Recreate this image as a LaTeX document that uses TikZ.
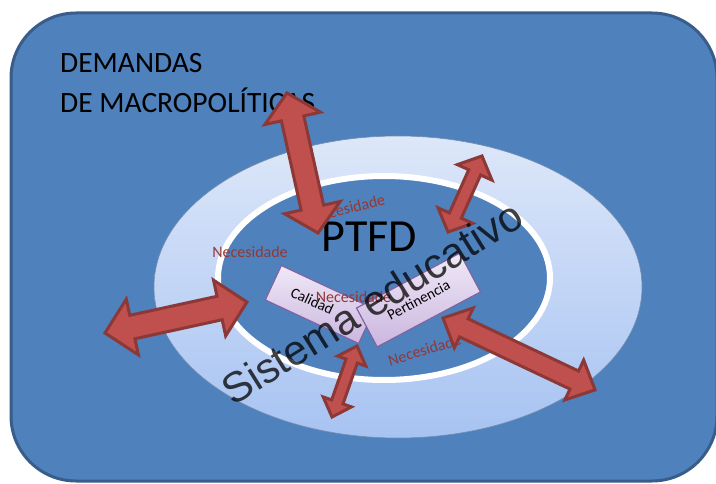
\documentclass[tikz,border=0pt]{standalone}
\usepackage{fontspec}
\setmainfont{Carlito}
\newfontfamily\sistfont{Liberation Sans}
\definecolor{bgblue}{HTML}{4F81BD}
\definecolor{bgline}{HTML}{385D8A}
\definecolor{ringtop}{HTML}{DDE7F9}
\definecolor{ringbot}{HTML}{A7C3F2}
\definecolor{arrowfill}{HTML}{C0504D}
\definecolor{arrowline}{HTML}{8C3836}
\definecolor{necred}{HTML}{953735}
\definecolor{boxtop}{HTML}{F0E9F7}
\definecolor{boxbot}{HTML}{CBB6DF}
\definecolor{boxline}{HTML}{8064A2}
\tikzset{
	arrowred/.style={fill=arrowfill, draw=arrowline, line width=3pt},
	necesidad/.style={text=necred, inner sep=0pt, font=\fontsize{16}{16}\selectfont},
	boxnode/.style={draw=boxline, line width=1.2pt, top color=boxtop, bottom color=boxbot, inner sep=0pt, font=\fontsize{15}{15}\selectfont},
	titletext/.style={anchor=base west, inner sep=0pt, font=\fontsize{29.5}{30}\selectfont}
}
\def\dblarrow(#1)(#2:#3:#4:#5:#6){\draw[arrowred, shift={(#1)}, rotate=#2] (0,0) -- (#6,#5) -- (#6,#4) -- ({#3-#6},#4) -- ({#3-#6},#5) -- (#3,0) -- ({#3-#6},-#5) -- ({#3-#6},-#4) -- (#6,-#4) -- (#6,-#5) -- cycle;}

\begin{document}
\begin{tikzpicture}[x=1pt, y=1pt]
		%%%%% START %%%%%
		\useasboundingbox (0,0) rectangle (716,483);
		
		\draw[rounded corners=65pt, fill=bgblue, draw=bgline, line width=3pt] (11,2) rectangle (717,470);
		
		\draw[top color=ringtop, bottom color=ringbot, draw=bgline!70, line width=0.6pt] (398,196) ellipse (244pt and 151pt);
		\draw[fill=bgblue, draw=white, line width=6pt] (384,205) ellipse (166pt and 102pt);
		
		\node[titletext] (demandas) at (60,410) {DEMANDAS};
		\node[titletext] (macro) at (60,370) {DE MACROPOLÍTICAS};
		
		\node[inner sep=0pt, font=\fontsize{46}{46}\selectfont] (ptfd) at (369.5,246) {PTFD};
		
		\node[necesidad] (necleft) at (250,230.5) {Necesidade};
		\node[necesidad, rotate=14] (nectop) at (348,275) {Necesidade};
		
		\node[boxnode, minimum width=103pt, minimum height=38pt, rotate=-25] (calidad) at (320,178.5) {\hspace*{-17pt}Calidad};
		\node[boxnode, minimum width=117pt, minimum height=44pt, rotate=28] (pertinencia) at (418.5,183) {Pertinencia};
		
		\node[necesidad] (necmid) at (353.5,185.5) {Necesidade};
		\node[necesidad, rotate=17] (necbot) at (424.5,133) {Necesidade};
		
		\dblarrow(318,250)(102.5:143.4:11.5:28.5:26)
		\dblarrow(448,251)(65.9:83.3:6.5:19:18)
		\dblarrow(105,150)(12.3:145.3:12:28.5:28)
		\dblarrow(332,66)(70.6:75.3:6:15:16)
		\dblarrow(443,165)(-25.3:168.2:10:22:23)
		
		\node[anchor=base west, inner sep=0pt, rotate=32, text=black, text opacity=0.75, font=\sistfont\fontsize{42.3}{42}\selectfont] (sistema) at (233,76) {Sistema educativo};
		
		%%%%% END %%%%%
\end{tikzpicture}
\end{document}
